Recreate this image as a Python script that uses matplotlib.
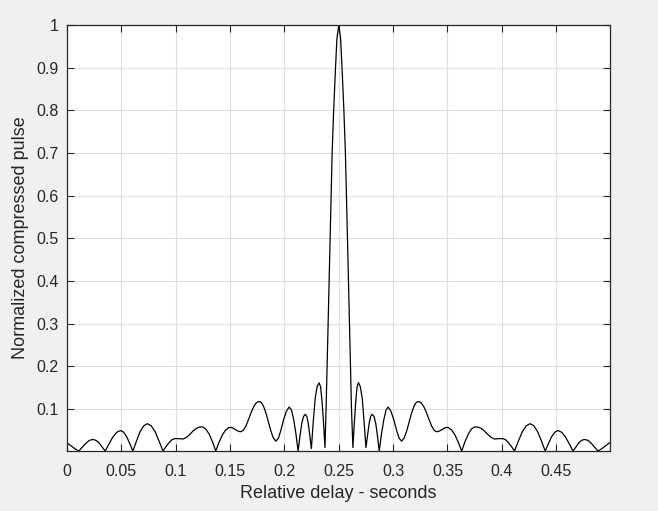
import matplotlib
matplotlib.use("Agg")
import matplotlib.pyplot as plt

# Relative delay (s) and normalized compressed pulse
delay = [
    0.0000, 0.0027, 0.0054, 0.0081, 0.0109,
    0.0141, 0.0174, 0.0206, 0.0238, 0.0267, 0.0295, 0.0324, 0.0352,
    0.0387, 0.0422, 0.0458, 0.0493, 0.0521, 0.0550, 0.0578, 0.0606,
    0.0639, 0.0672, 0.0706, 0.0739, 0.0775, 0.0811, 0.0847, 0.0883,
    0.0910, 0.0937, 0.0963, 0.0990, 0.1028, 0.1067, 0.1100, 0.1130, 0.1160, 0.1190,
    0.1220, 0.1245, 0.1275, 0.1307, 0.1338, 0.1368,
    0.1398, 0.1428, 0.1459, 0.1490, 0.1516, 0.1543, 0.1570, 0.1595, 0.1620, 0.1645,
    0.1670, 0.1695, 0.1720, 0.1742, 0.1764, 0.1786, 0.1808, 0.1830, 0.1852, 0.1874,
    0.1897, 0.1921, 0.1945, 0.1969, 0.1993, 0.2018, 0.2043, 0.2065, 0.2086, 0.2106,
    0.2126,
    0.2143, 0.2160, 0.2176, 0.2192, 0.2206, 0.2220, 0.2234, 0.2248,
    0.2265, 0.2283, 0.2301, 0.2319, 0.2333, 0.2346, 0.2360, 0.2373,
    0.2383, 0.2393, 0.2402, 0.2411, 0.2420, 0.2430, 0.2439, 0.2453, 0.2470, 0.2483,
    0.2500,
    0.2517, 0.2530, 0.2547, 0.2561, 0.2571, 0.2580, 0.2589, 0.2598, 0.2607, 0.2617,
    0.2630,
    0.2643, 0.2656, 0.2668, 0.2681, 0.2698, 0.2716, 0.2733, 0.2750,
    0.2764, 0.2779, 0.2793, 0.2808, 0.2824, 0.2840, 0.2856, 0.2872,
    0.2893, 0.2914, 0.2935, 0.2955, 0.2980, 0.3005, 0.3030, 0.3055, 0.3079, 0.3103,
    0.3126, 0.3148, 0.3170, 0.3192, 0.3213, 0.3235, 0.3257, 0.3280, 0.3305, 0.3330,
    0.3355, 0.3380, 0.3401, 0.3428, 0.3455, 0.3482, 0.3508, 0.3539, 0.3570, 0.3600,
    0.3631,
    0.3661, 0.3692, 0.3722, 0.3752, 0.3780, 0.3810, 0.3840, 0.3870, 0.3900, 0.3933,
    0.3972, 0.4010, 0.4036, 0.4063, 0.4090, 0.4116,
    0.4152, 0.4188, 0.4224, 0.4260, 0.4295, 0.4330, 0.4365, 0.4399,
    0.4428, 0.4457, 0.4487, 0.4516, 0.4550, 0.4585, 0.4620, 0.4654,
    0.4681, 0.4707, 0.4734, 0.4761, 0.4792, 0.4823, 0.4854, 0.4884,
    0.4911, 0.4938, 0.4964, 0.4991,
]
pulse = [
    0.021, 0.016, 0.011, 0.006, 0.002,
    0.011, 0.020, 0.027, 0.029, 0.027, 0.021, 0.011, 0.002,
    0.019, 0.035, 0.046, 0.050, 0.046, 0.035, 0.019, 0.002,
    0.025, 0.047, 0.061, 0.066, 0.061, 0.047, 0.025, 0.002,
    0.012, 0.021, 0.028, 0.031, 0.031, 0.030, 0.034, 0.041, 0.049, 0.055,
    0.058, 0.0586, 0.054, 0.042, 0.024, 0.002,
    0.022, 0.039, 0.051, 0.057, 0.057, 0.053, 0.049, 0.047, 0.050, 0.060,
    0.076, 0.093, 0.107, 0.115, 0.118, 0.116, 0.107, 0.091, 0.071, 0.050,
    0.033, 0.025, 0.032, 0.052, 0.076, 0.095, 0.105, 0.098, 0.075, 0.042,
    0.002,
    0.037, 0.067, 0.083, 0.088, 0.083, 0.066, 0.038, 0.008,
    0.070, 0.125, 0.153, 0.162, 0.152, 0.118, 0.068, 0.010,
    0.1, 0.2, 0.3, 0.4, 0.5, 0.6, 0.7, 0.8, 0.9, 0.968,
    1.0,
    0.968, 0.9, 0.8, 0.7, 0.6, 0.5, 0.4, 0.3, 0.2, 0.1,
    0.010,
    0.068, 0.118, 0.152, 0.162, 0.153, 0.125, 0.070, 0.010,
    0.038, 0.066, 0.083, 0.088, 0.083, 0.067, 0.037, 0.002,
    0.042, 0.075, 0.098, 0.105, 0.095, 0.076, 0.052, 0.032, 0.025, 0.033,
    0.050, 0.071, 0.091, 0.107, 0.116, 0.118, 0.115, 0.107, 0.093, 0.076,
    0.060, 0.050, 0.047, 0.049, 0.053, 0.057, 0.057, 0.051, 0.039, 0.022,
    0.002,
    0.024, 0.042, 0.054, 0.0586, 0.058, 0.055, 0.049, 0.041, 0.034, 0.030,
    0.031, 0.031, 0.028, 0.021, 0.012, 0.002,
    0.025, 0.047, 0.061, 0.066, 0.061, 0.047, 0.025, 0.002,
    0.019, 0.035, 0.046, 0.050, 0.046, 0.035, 0.019, 0.002,
    0.011, 0.021, 0.027, 0.029, 0.027, 0.020, 0.011, 0.002,
    0.006, 0.011, 0.016, 0.021,
]

xticks = [0, 0.05, 0.1, 0.15, 0.2, 0.25, 0.3, 0.35, 0.4, 0.45]
xtick_labels = ["0", "0.05", "0.1", "0.15", "0.2", "0.25", "0.3", "0.35", "0.4", "0.45"]
yticks = [0.1, 0.2, 0.3, 0.4, 0.5, 0.6, 0.7, 0.8, 0.9, 1.0]
ytick_labels = ["0.1", "0.2", "0.3", "0.4", "0.5", "0.6", "0.7", "0.8", "0.9", "1"]

plt.rcParams['font.family'] = ['Liberation Sans', 'DejaVu Sans']

fig = plt.figure(figsize=(6.58, 5.11), dpi=100, facecolor='#f0f0f0')
ax = fig.add_axes([67/658, 60/511, 543/658, 426/511])
ax.set_facecolor('white')

ax.plot(delay, pulse, color='black', linewidth=0.9)

ax.set_xlim(0, 0.4995)
ax.set_ylim(0.002, 1.0)
ax.set_xticks(xticks)
ax.set_xticklabels(xtick_labels)
ax.set_yticks(yticks)
ax.set_yticklabels(ytick_labels)

ax.grid(True, color='#dfdfdf', linewidth=0.8)
ax.set_axisbelow(True)
for s in ax.spines.values():
    s.set_color('#262626')
    s.set_linewidth(0.9)
ax.tick_params(direction='in', length=5, width=0.8, colors='#262626',
               labelsize=11.5, top=True, right=True)
ax.tick_params(axis='x', pad=9.5)
ax.tick_params(axis='y', pad=6)

ax.set_xlabel('Relative delay - seconds', fontsize=13, color='#262626', labelpad=4)
ax.set_ylabel('Normalized compressed pulse', fontsize=13, color='#262626', labelpad=5)

fig.savefig('out.png', dpi=100, facecolor=fig.get_facecolor())
